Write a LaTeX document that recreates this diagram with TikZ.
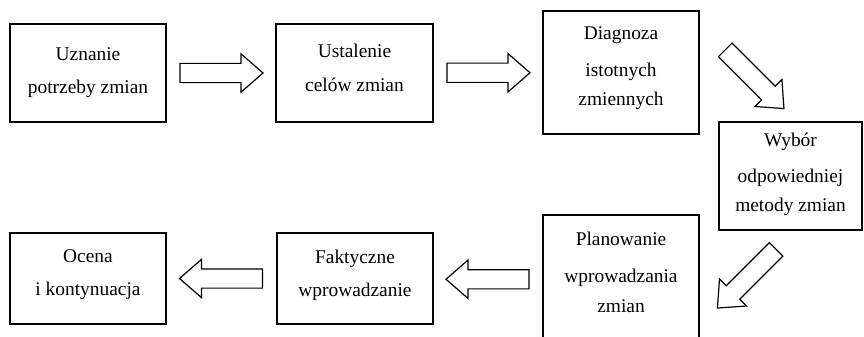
\documentclass[tikz,border=0pt]{standalone}
\usepackage{fontspec}
\setmainfont{Liberation Serif}
\usetikzlibrary{shapes.arrows,calc}
% centred multi-line label whose reference point is the first baseline
\newcommand{\boxlines}[1]{\parbox[t]{170pt}{\centering #1}}

\begin{document}
\begin{tikzpicture}[x=1pt,y=-1pt,
  stage/.style={draw, line width=1.4pt, inner sep=0pt},
  lbltwo/.style={anchor=base, inner sep=0pt, font=\fontsize{19.4}{33}\selectfont},
  lblthree/.style={anchor=base, inner sep=0pt, font=\fontsize{19.4}{29.5}\selectfont},
  flow/.style={shape=single arrow, draw, fill=white, line width=1.2pt,
    inner xsep=0pt, inner ysep=9pt, minimum height=83pt,
    single arrow head extend=9.5pt, single arrow tip angle=82}]
\useasboundingbox (0,0) rectangle (864,337);
\clip (0,0) rectangle (864,337);

% stages of the change process
\node[stage, minimum width=156pt, minimum height=98pt]  (b1) at (88,73)     {};
\node[stage, minimum width=157pt, minimum height=98pt]  (b2) at (354.5,73)  {};
\node[stage, minimum width=156pt, minimum height=123pt] (b3) at (621,72.5)  {};
\node[stage, minimum width=143pt, minimum height=108pt] (b4) at (790.5,176) {};
\node[stage, minimum width=156pt, minimum height=130pt] (b5) at (621,280)   {};
\node[stage, minimum width=156pt, minimum height=91pt]  (b6) at (355,278.5) {};
\node[stage, minimum width=156pt, minimum height=91pt]  (b7) at (88,278.5)  {};

% stage texts
\node[lbltwo] (t1) at (88,60)    {\boxlines{Uznanie\\potrzeby zmian}};
\node[lbltwo] (t2) at (354.5,58) {\boxlines{Ustalenie\\celów zmian}};
\node[lblthree] (t3) at (621,40) {\boxlines{Diagnoza\\[6.5pt]istotnych\\zmiennych}};
\node[lblthree] (t4) at (790.5,146) {\boxlines{Wybór\\[6.5pt]odpowiedniej\\metody zmian}};
\node[lblthree] (t5) at (621,245) {\boxlines{Planowanie\\[8pt]wprowadzania\\zmian}};
\node[lbltwo] (t6) at (355,263)  {\boxlines{Faktyczne\\wprowadzanie}};
\node[lbltwo] (t7) at (88,262)   {\boxlines{Ocena\\i kontynuacja}};

% block arrows between stages
\node[flow] (a1) at ($(b1.east)!0.5!(b2.west)+(-5,0)$) {};
\node[flow] (a2) at ($(b2.east)!0.5!(b3.west)+(-5,0)$) {};
\node[flow, rotate=-45] (a3) at ($(b3.north east)+(51,65)$) {};
\node[flow, rotate=-135] (a4) at ($(b5.north east)+(51,60.5)$) {};
\node[flow, rotate=180] (a5) at ($(b5.west)!0.5!(b6.east)+(5,0)$) {};
\node[flow, rotate=180] (a6) at ($(b6.west)!0.5!(b7.east)+(5,0)$) {};
\end{tikzpicture}
\end{document}
